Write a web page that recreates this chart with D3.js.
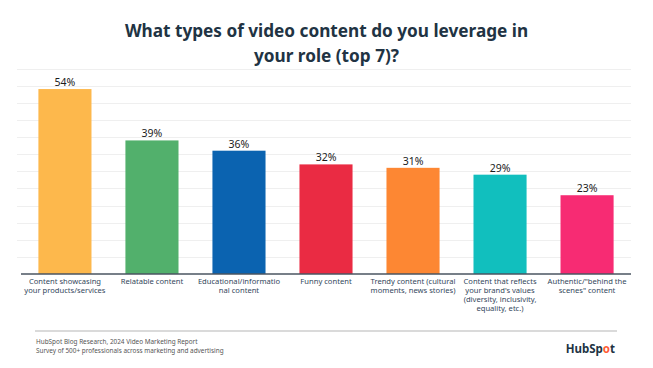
<!DOCTYPE html>
<html lang="en">
<head>
    <meta charset="UTF-8">
    <title>What types of video content do you leverage in your role (top 7)?</title>
    <script src="https://d3js.org/d3.v7.min.js"></script>
    <style>
        body {
            margin: 0;
            background: #fff;
            overflow: hidden;
        }
        text {
            font-family: "Noto Sans", "Lato", sans-serif;
        }
        .title {
            font-size: 17.2px;
            font-weight: 700;
            fill: #213343;
        }
        .grid line {
            stroke: #efefef;
            stroke-width: 1;
        }
        .value-label {
            font-size: 10.5px;
            fill: #1b1b1b;
            text-anchor: middle;
        }
        .cat-label {
            font-size: 7.6px;
            fill: #33475b;
            text-anchor: middle;
        }
        .footer {
            font-size: 6.4px;
            fill: #555;
        }
    </style>
</head>
<body>
    <script>
        const width = 653;
        const height = 368;

        // dati
        const categories = [
            "Content showcasing\nyour products/services",
            "Relatable content",
            "Educational/informatio\nnal content",
            "Funny content",
            "Trendy content (cultural\nmoments, news stories)",
            "Content that reflects\nyour brand's values\n(diversity, inclusivity,\nequality, etc.)",
            "Authentic/\"behind the\nscenes\" content"
        ];
        const values = [54, 39, 36, 32, 31, 29, 23];
        const colors = ["#fdb84c", "#52b06c", "#0b63b0", "#ea2b43", "#fd8733", "#11bfbe", "#f72b73"];
        const gridTicks = d3.range(0, 61, 5);
        const titleLines = ["What types of video content do you leverage in", "your role (top 7)?"];
        const footerLines = ["HubSpot Blog Research, 2024 Video Marketing Report",
                             "Survey of 500+ professionals across marketing and advertising"];

        const plot = { left: 21, right: 631, top: 68.5, bottom: 274 };

        const svg = d3.select("body").append("svg")
            .attr("width", width)
            .attr("height", height);

        const x = d3.scaleBand()
            .domain(d3.range(categories.length))
            .range([plot.left, plot.right])
            .paddingInner(0.39)
            .paddingOuter(0.2);

        const y = d3.scaleLinear()
            .domain([0, 60])
            .range([plot.bottom, plot.top]);

        // titolo
        svg.append("g").selectAll("text")
            .data(titleLines)
            .enter().append("text")
            .attr("class", "title")
            .attr("x", width / 2)
            .attr("y", (d, i) => 37 + i * 25)
            .attr("text-anchor", "middle")
            .text(d => d);

        // griglia orizzontale
        svg.append("g")
            .attr("class", "grid")
            .selectAll("line")
            .data(gridTicks.filter(d => d > 0))
            .enter().append("line")
            .attr("x1", 17)
            .attr("x2", plot.right)
            .attr("y1", d => Math.round(y(d)) + 0.5)
            .attr("y2", d => Math.round(y(d)) + 0.5);

        // barre
        svg.append("g")
            .selectAll("rect")
            .data(values)
            .enter().append("rect")
            .attr("x", (d, i) => x(i))
            .attr("y", d => y(d))
            .attr("width", x.bandwidth())
            .attr("height", d => y(0) - y(d))
            .attr("fill", (d, i) => colors[i]);

        // etichette dei valori
        svg.append("g")
            .selectAll("text")
            .data(values)
            .enter().append("text")
            .attr("class", "value-label")
            .attr("x", (d, i) => x(i) + x.bandwidth() / 2)
            .attr("y", d => y(d) - 3)
            .text(d => d + "%");

        // asse x
        svg.append("line")
            .attr("x1", plot.left)
            .attr("x2", plot.right)
            .attr("y1", y(0))
            .attr("y2", y(0))
            .attr("stroke", "#4a5560")
            .attr("stroke-width", 1.3);

        // etichette delle categorie
        const cat = svg.append("g")
            .selectAll("text")
            .data(categories)
            .enter().append("text")
            .attr("class", "cat-label")
            .attr("x", (d, i) => x(i) + x.bandwidth() / 2)
            .attr("y", 283.5);

        cat.selectAll("tspan")
            .data(d => d.split("\n"))
            .enter().append("tspan")
            .attr("x", function() { return d3.select(this.parentNode).attr("x"); })
            .attr("dy", (d, i) => i === 0 ? 0 : 9)
            .text(d => d);

        // piè di pagina
        svg.append("line")
            .attr("x1", 35)
            .attr("x2", 617)
            .attr("y1", 331)
            .attr("y2", 331)
            .attr("stroke", "#b5b5b5")
            .attr("stroke-width", 1);

        svg.append("g").selectAll("text")
            .data(footerLines)
            .enter().append("text")
            .attr("class", "footer")
            .attr("x", 36)
            .attr("y", (d, i) => 343.5 + i * 9)
            .text(d => d);

        // logo HubSpot
        const logo = svg.append("text")
            .attr("x", 615)
            .attr("y", 353)
            .attr("text-anchor", "end")
            .attr("font-size", 11.5)
            .attr("font-weight", 700)
            .attr("fill", "#213343");
        logo.append("tspan").text("HubSp");
        logo.append("tspan").attr("fill", "#ff5c35").text("o");
        logo.append("tspan").text("t");
    </script>
</body>
</html>
